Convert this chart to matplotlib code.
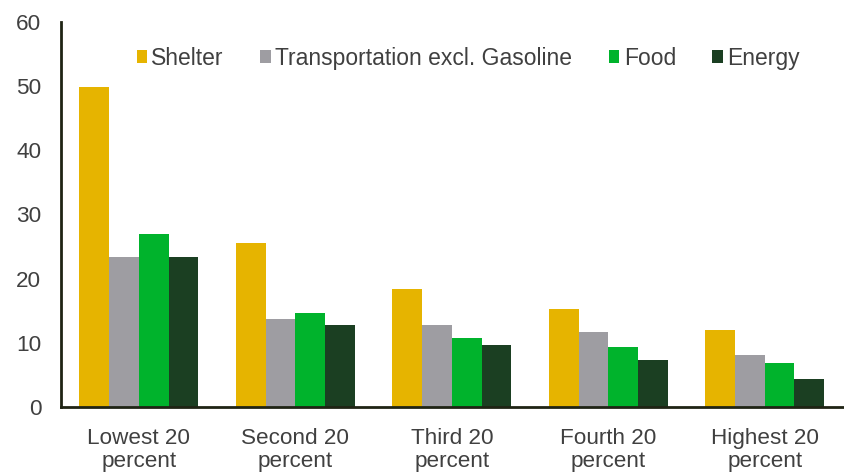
import matplotlib
matplotlib.use("Agg")
import matplotlib.pyplot as plt
import numpy as np

categories = ["Lowest 20\npercent", "Second 20\npercent", "Third 20\npercent",
              "Fourth 20\npercent", "Highest 20\npercent"]
series_names = ["Shelter", "Transportation excl. Gasoline", "Food", "Energy"]
shelter = [49.8, 25.6, 18.4, 15.3, 12.0]
transportation = [23.4, 13.7, 12.8, 11.7, 8.1]
food = [26.9, 14.6, 10.8, 9.4, 6.8]
energy = [23.4, 12.8, 9.7, 7.3, 4.3]
colors = ["#E6B400", "#9E9DA2", "#00B32C", "#1B3F22"]
yticks = [0, 10, 20, 30, 40, 50, 60]

plt.rcParams['font.family'] = ['Liberation Sans', 'DejaVu Sans']

fig = plt.figure(figsize=(8.44, 4.76), dpi=100)
ax = fig.add_axes([60.7 / 844, 1 - 407 / 476, (843 - 60.7) / 844, (407 - 22) / 476])

x = np.arange(len(categories))
w = 0.19
data = [shelter, transportation, food, energy]
for i, (name, vals, c) in enumerate(zip(series_names, data, colors)):
    ax.bar(x + (i - 1.5) * w, vals, width=w, color=c, label=name, linewidth=0)

ax.set_xlim(-0.5, 4.5)
ax.set_ylim(0, 60)
ax.set_yticks(yticks)
ax.set_xticks(x)
ax.set_xticklabels(categories, fontsize=16.2, color="#404040", linespacing=1.12)
ax.tick_params(axis='y', labelsize=16.2, labelcolor="#404040", length=0, pad=14)
ax.tick_params(axis='x', length=0, pad=15)
for s in ["top", "right"]:
    ax.spines[s].set_visible(False)
for s in ["left", "bottom"]:
    ax.spines[s].set_color("#1f2414")
    ax.spines[s].set_linewidth(2)

leg = ax.legend(loc="center left", bbox_to_anchor=(0.097, 0.906), ncol=4, frameon=False,
                fontsize=16.5, handlelength=0.45, handleheight=0.55, handletextpad=0.2,
                columnspacing=1.59, labelcolor="#404040", borderpad=0, borderaxespad=0)

fig.savefig("out.png", dpi=100)
